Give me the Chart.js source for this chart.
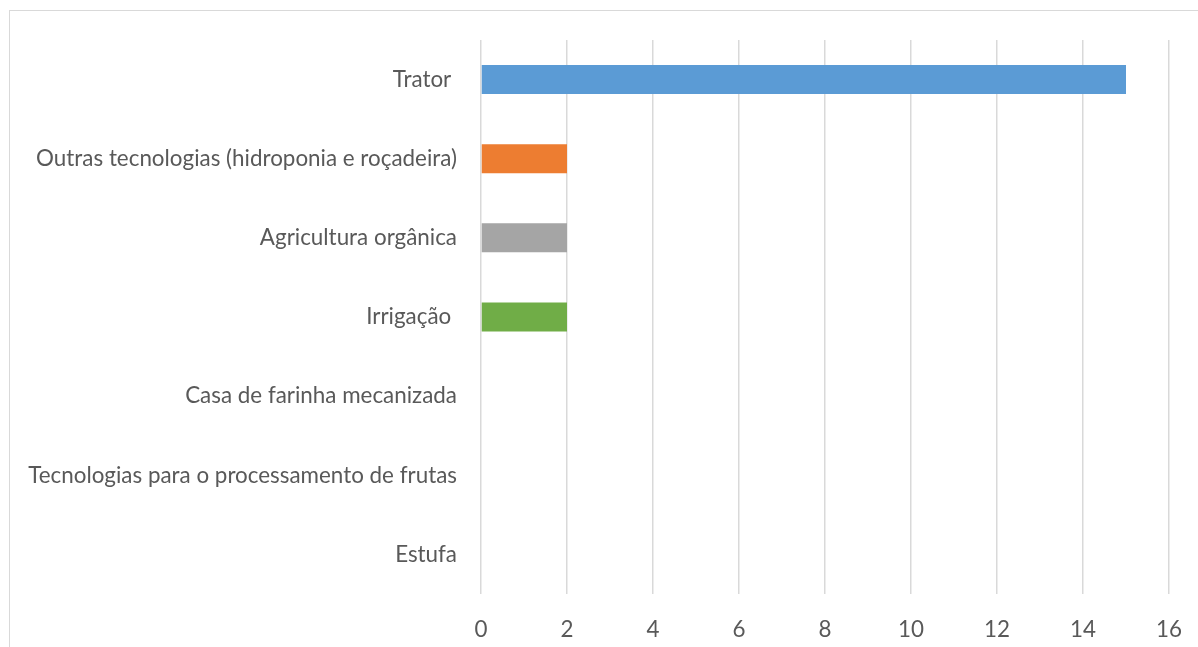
<!DOCTYPE html>
<html>
<head>
<meta charset="utf-8">
<script src="https://cdn.jsdelivr.net/npm/chart.js@4/dist/chart.umd.min.js"></script>
<style>
  html, body { margin: 0; padding: 0; background: #fff; }
  body { width: 1198px; height: 647px; position: relative; overflow: hidden; }
  #frame { position: absolute; left: 9px; top: 10px; width: 1200px; height: 700px; border: 1px solid #D9D9D9; box-sizing: border-box; }
  #c { position: absolute; left: 0; top: 0; }
</style>
</head>
<body>
<div id="frame"></div>
<canvas id="c" width="1198" height="647"></canvas>
<script>
const categories = [
  "Trator ",
  "Outras tecnologias (hidroponia e roçadeira)",
  "Agricultura orgânica",
  "Irrigação ",
  "Casa de farinha mecanizada",
  "Tecnologias para o processamento de frutas",
  "Estufa"
];
const values = [15, 2, 2, 2, 0, 0, 0];
const barColors = ["#5B9BD5", "#ED7D31", "#A5A5A5", "#70AD47", "#4472C4", "#FFC000", "#264478"];
const xTicks = [0, 2, 4, 6, 8, 10, 12, 14, 16];

const PLOT_LEFT = 481;
const PLOT_BOTTOM = 594;
new Chart(document.getElementById('c'), {
  type: 'bar',
  data: {
    labels: categories,
    datasets: [{
      data: values,
      backgroundColor: barColors,
      borderWidth: 0,
      categoryPercentage: 0.366,
      barPercentage: 1.0
    }]
  },
  options: {
    indexAxis: 'y',
    responsive: false,
    animation: false,
    layout: { padding: { left: 0, right: 29, top: 40, bottom: 0 } },
    plugins: { legend: { display: false }, tooltip: { enabled: false } },
    scales: {
      x: {
        min: 0, max: 16,
        afterBuildTicks: (s) => { s.ticks = xTicks.map(v => ({ value: v })); },
        afterFit: (s) => { s.height = 647 - PLOT_BOTTOM; s.paddingLeft = 0; s.paddingRight = 0; },
        grid: { color: '#D9D9D9', lineWidth: 1.5, drawTicks: false, tickLength: 0 },
        border: { display: false },
        ticks: { color: '#595959', padding: 22, font: { family: 'Lato', size: 22.4 } }
      },
      y: {
        afterFit: (s) => { s.width = PLOT_LEFT; s.paddingTop = 0; s.paddingBottom = 0; },
        grid: { display: false, drawTicks: false },
        border: { display: false },
        ticks: { color: '#595959', padding: 24, font: { family: 'Lato', size: 22.4 } }
      }
    }
  }
});
</script>
</body>
</html>
